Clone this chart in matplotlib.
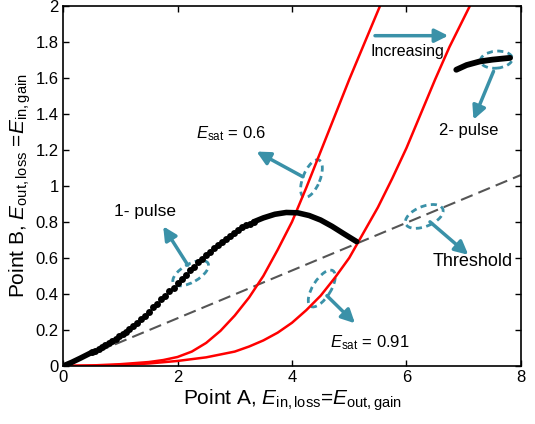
import numpy as np
import matplotlib
matplotlib.use("Agg")
import matplotlib.pyplot as plt
import matplotlib.transforms as transforms
from matplotlib.patches import Ellipse

plt.rcParams['font.family'] = ['Liberation Sans', 'DejaVu Sans']
plt.rcParams['mathtext.fontset'] = 'custom'
plt.rcParams['mathtext.rm'] = 'Liberation Sans'
plt.rcParams['mathtext.it'] = 'Liberation Sans:italic'

# --- data ---
# threshold line
thr_x = [0, 8]
thr_y = [0, 1.06]

# saturation curves
esat06_x = [0, 0.5, 1.0, 1.5, 1.75, 2.0, 2.25, 2.5, 2.75, 3.0, 3.25, 3.5, 3.75,
            4.0, 4.25, 4.5, 4.75, 5.0, 5.25, 5.54]
esat06_y = [0, 0.003, 0.01, 0.022, 0.033, 0.05, 0.08, 0.128, 0.195, 0.28, 0.38, 0.50, 0.645,
            0.80, 0.99, 1.19, 1.39, 1.59, 1.78, 2.0]
esat091_x = [0, 1.0, 1.5, 2.0, 2.5, 3.0, 3.25, 3.5, 3.75, 4.0, 4.25, 4.5, 4.75,
             5.0, 5.25, 5.5, 5.75, 6.0, 6.25, 6.5, 6.75, 7.11]
esat091_y = [0, 0.005, 0.014, 0.028, 0.048, 0.08, 0.108, 0.142, 0.185, 0.24, 0.31, 0.39, 0.49,
             0.60, 0.74, 0.88, 1.04, 1.21, 1.40, 1.59, 1.77, 2.0]

# 1-pulse branch: dense start, separate dots, dense top
p1_start_x = [0, 0.15, 0.30, 0.50]
p1_start_y = [0, 0.02, 0.043, 0.075]
p1_dots_x = [0.50, 0.56, 0.62, 0.68, 0.74, 0.80, 0.86, 0.92, 0.98, 1.04, 1.10, 1.16, 1.22,
             1.30, 1.37, 1.44, 1.51, 1.58, 1.65, 1.72, 1.79, 1.86, 1.93, 2.00, 2.07, 2.14,
             2.21, 2.28, 2.35, 2.42, 2.49, 2.56, 2.63, 2.70, 2.77, 2.84, 2.91, 2.98, 3.05,
             3.12, 3.19, 3.26, 3.33]
p1_dots_y = [0.075, 0.085, 0.095, 0.106, 0.117, 0.128, 0.14, 0.152, 0.165, 0.178, 0.19, 0.205, 0.22,
             0.24, 0.26, 0.28, 0.30, 0.325, 0.345, 0.37, 0.39, 0.415, 0.435, 0.46, 0.485, 0.505,
             0.53, 0.55, 0.575, 0.595, 0.615, 0.635, 0.655, 0.67, 0.69, 0.705, 0.72, 0.74, 0.755,
             0.77, 0.78, 0.79, 0.80]
p1_top_x = [3.33, 3.5, 3.7, 3.9, 4.1, 4.3, 4.5, 4.7, 4.9, 5.13]
p1_top_y = [0.80, 0.822, 0.842, 0.852, 0.85, 0.835, 0.81, 0.775, 0.735, 0.69]

# 2-pulse branch
p2_x = [6.87, 7.05, 7.28, 7.5, 7.81]
p2_y = [1.644, 1.67, 1.69, 1.70, 1.71]

teal = '#3a91a8'

fig = plt.figure(figsize=(5.35, 4.24), dpi=100)
ax = fig.add_axes([0.1178, 0.1368, 0.856, 0.850])

ax.plot(thr_x, thr_y, color='#555555', lw=1.5, ls=(0, (6, 3)))
ax.plot(esat06_x, esat06_y, color='red', lw=1.8)
ax.plot(esat091_x, esat091_y, color='red', lw=1.8)

ax.plot(p1_start_x, p1_start_y, color='black', lw=4, solid_capstyle='round')
ax.plot(p1_dots_x, p1_dots_y, 'o', color='black', ms=5, mec='none')
ax.plot(p1_top_x, p1_top_y, color='black', lw=4, solid_capstyle='round')
ax.plot(p2_x, p2_y, color='black', lw=4.2, solid_capstyle='round')


def dash_ellipse(xd, yd, w_px, h_px, ang):
    # size in pixels, placed at a data point
    tr = fig.dpi_scale_trans + transforms.ScaledTranslation(xd, yd, ax.transData)
    e = Ellipse((0, 0), w_px / 100, h_px / 100, angle=ang, fill=False,
                ec=teal, lw=2.0, ls=(0, (2.2, 1.6)), transform=tr)
    ax.add_patch(e)


def arrow(tail, tip):
    ax.annotate('', xy=tip, xytext=tail,
                arrowprops=dict(arrowstyle='-|>', color=teal, lw=2.5,
                                mutation_scale=20, shrinkA=0, shrinkB=0))


# 1- pulse
dash_ellipse(2.23, 0.515, 40, 18, 30)
arrow((2.18, 0.56), (1.75, 0.775))
ax.text(1.43, 0.855, '1- pulse', fontsize=12.5, ha='center', va='center')

# Esat = 0.6
dash_ellipse(4.34, 1.04, 40, 17, 68)
arrow((4.19, 1.05), (3.38, 1.19))
ax.text(2.93, 1.29, r'$E_{\rm sat}$ = 0.6', fontsize=12, ha='center', va='center')

# Esat = 0.91
dash_ellipse(4.52, 0.43, 42, 18, 58)
arrow((4.61, 0.39), (5.10, 0.237))
ax.text(5.36, 0.128, r'$E_{\rm sat}$ = 0.91', fontsize=12, ha='center', va='center')

# Threshold
dash_ellipse(6.31, 0.83, 40, 20, 22)
arrow((6.41, 0.80), (7.08, 0.617))
ax.text(7.16, 0.58, 'Threshold', fontsize=13, ha='center', va='center')

# 2- pulse
dash_ellipse(7.57, 1.70, 32, 17, 5)
arrow((7.52, 1.635), (7.17, 1.367))
ax.text(7.09, 1.305, '2- pulse', fontsize=12, ha='center', va='center')

# Increasing
arrow((5.45, 1.833), (6.73, 1.833))
ax.text(6.02, 1.745, 'Increasing', fontsize=11.5, ha='center', va='center')

ax.set_xlim(0, 8)
ax.set_ylim(0, 2)
ax.set_xticks([0, 2, 4, 6, 8])
ax.set_yticks([0, 0.2, 0.4, 0.6, 0.8, 1.0, 1.2, 1.4, 1.6, 1.8, 2.0])
ax.set_yticklabels(['0', '0.2', '0.4', '0.6', '0.8', '1', '1.2', '1.4', '1.6', '1.8', '2'])
ax.tick_params(direction='in', top=True, right=True, length=4, width=1, labelsize=12, pad=3)
for s in ax.spines.values():
    s.set_linewidth(1.2)

ax.set_xlabel(r'Point A, $E_{\rm in,loss}$=$E_{\rm out,gain}$', fontsize=15, labelpad=2)
ax.set_ylabel(r'Point B, $E_{\rm out,loss}$ =$E_{\rm in,gain}$', fontsize=15, labelpad=2)

fig.savefig('out.png', dpi=100)
